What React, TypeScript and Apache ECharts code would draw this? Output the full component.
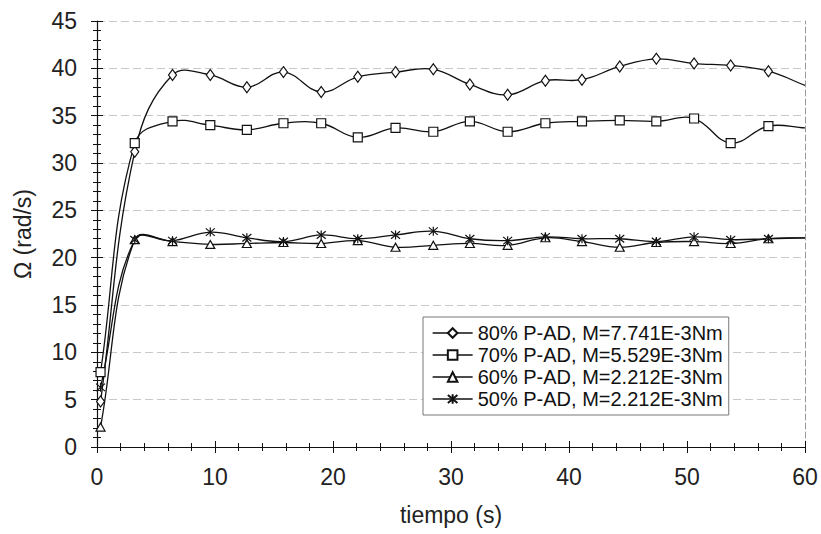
import React, { useEffect, useRef } from "react";
import * as echarts from "echarts";

// time axis (s)
const times = [0.3, 3.2, 6.4, 9.6, 12.7, 15.8, 19.0, 22.1, 25.3, 28.5, 31.6, 34.8, 38.0, 41.1, 44.3, 47.4, 50.6, 53.7, 56.9, 60.0];

// angular speed Ω (rad/s)
const s80 = [4.8, 31.2, 39.3, 39.3, 38.0, 39.6, 37.5, 39.1, 39.6, 39.9, 38.3, 37.2, 38.7, 38.8, 40.2, 41.0, 40.5, 40.3, 39.7, 38.2];
const s70 = [7.9, 32.1, 34.4, 34.0, 33.5, 34.2, 34.2, 32.7, 33.7, 33.3, 34.4, 33.3, 34.2, 34.4, 34.5, 34.4, 34.7, 32.1, 33.9, 33.7];
const s60 = [2.1, 21.9, 21.7, 21.4, 21.5, 21.6, 21.5, 21.8, 21.1, 21.3, 21.5, 21.3, 22.1, 21.7, 21.1, 21.6, 21.7, 21.5, 22.0, 22.1];
const s50 = [6.3, 21.9, 21.8, 22.7, 22.1, 21.7, 22.4, 22.0, 22.4, 22.8, 22.0, 21.8, 22.2, 22.0, 22.0, 21.7, 22.2, 21.9, 22.0, 22.1];

const names = [
  "80% P-AD, M=7.741E-3Nm",
  "70% P-AD, M=5.529E-3Nm",
  "60% P-AD, M=2.212E-3Nm",
  "50% P-AD, M=2.212E-3Nm",
];

const xTitle = "tiempo (s)";
const yTitle = "Ω (rad/s)";

const FONT = "'Liberation Sans', Arial, sans-serif";

export default function App() {
  const ref = useRef<HTMLDivElement>(null);
  useEffect(() => {
    const chart = echarts.init(ref.current!, null, { renderer: "svg" });
    const n = times.length;
    const toData = (vals: number[]) =>
      vals.map((v, i) =>
        i === n - 1 ? { value: [times[i], v], symbol: "none" } : [times[i], v]
      );
    const starPath = "path://M0 0L10 10M10 0L0 10M5 -1L5 11";

    // markers (line itself hidden; curve drawn by the custom series below)
    const mk = (name: string, vals: number[], symbol: string, size: any) => ({
      name,
      type: "line",
      xAxisIndex: 0,
      yAxisIndex: 0,
      data: toData(vals),
      symbol,
      symbolSize: size,
      showSymbol: true,
      lineStyle: { color: "#111", width: 1.3, opacity: 0 },
      itemStyle: { color: "#fff", borderColor: "#111", borderWidth: 1.2 },
      emphasis: { disabled: true },
      z: 4,
    });

    // smoothed curve through the points (spreadsheet-style smoothed line)
    const S = 0.4;
    const curve = (name: string, vals: number[]) => ({
      name: name + " (curva)",
      type: "custom",
      xAxisIndex: 0,
      yAxisIndex: 0,
      z: 3,
      silent: true,
      encode: { x: 0, y: 1 },
      data: vals.slice(0, n - 1).map((v, i) => [times[i], v]),
      renderItem: (params: any, api: any) => {
        const i = params.dataIndex;
        const p = (j: number) => {
          const k = Math.max(0, Math.min(n - 1, j));
          return api.coord([times[k], vals[k]]);
        };
        const dist = (a: number[], b: number[]) => Math.hypot(a[0] - b[0], a[1] - b[1]);
        const p0 = p(i - 1), p1 = p(i), p2 = p(i + 1), p3 = p(i + 2);
        const d01 = dist(p0, p1), d12 = dist(p1, p2), d23 = dist(p2, p3);
        const f1 = d01 + d12 > 0 ? (S * d12) / (d01 + d12) : 0;
        const f2 = d12 + d23 > 0 ? (S * d12) / (d12 + d23) : 0;
        return {
          type: "bezierCurve",
          shape: {
            x1: p1[0],
            y1: p1[1],
            x2: p2[0],
            y2: p2[1],
            cpx1: p1[0] + (p2[0] - p0[0]) * f1,
            cpy1: p1[1] + (p2[1] - p0[1]) * f1,
            cpx2: p2[0] - (p3[0] - p1[0]) * f2,
            cpy2: p2[1] - (p3[1] - p1[1]) * f2,
          },
          style: { stroke: "#111", lineWidth: 1.3, fill: null },
        };
      },
    });

    const gridLine = { show: true, lineStyle: { color: "#c8c8c8", width: 1, type: [8, 4] as any } };
    chart.setOption({
      animation: false,
      backgroundColor: "#fff",
      textStyle: { fontFamily: FONT },
      grid: { left: 97, right: 16, top: 21, bottom: 87, containLabel: false },
      legend: {
        data: names,
        orient: "vertical",
        left: 423,
        top: 317,
        padding: [6, 6, 6, 9],
        itemGap: 2,
        itemWidth: 40,
        itemHeight: 12,
        backgroundColor: "#fff",
        borderColor: "#777",
        borderWidth: 1,
        lineStyle: { color: "#111", width: 1.3, opacity: 1 },
        textStyle: { fontSize: 20, color: "#111", fontFamily: FONT },
      },
      xAxis: [
        {
          type: "value",
          min: 0,
          max: 60,
          interval: 10,
          position: "bottom",
          axisLine: { show: true, onZero: false, lineStyle: { color: "#111", width: 1.2 } },
          axisTick: { show: true, inside: false, length: 6, lineStyle: { color: "#111" } },
          minorTick: { show: true, splitNumber: 5, length: 4, lineStyle: { color: "#111" } },
          axisLabel: { fontSize: 23, color: "#222", margin: 18, fontFamily: FONT },
          splitLine: { show: false },
          name: xTitle,
          nameLocation: "middle",
          nameGap: 56,
          nameTextStyle: { fontSize: 23, color: "#222", fontFamily: FONT },
        },
        {
          type: "value",
          min: 0,
          max: 60,
          interval: 10,
          position: "bottom",
          axisLine: { show: false, onZero: false },
          axisTick: { show: true, inside: true, length: 6, lineStyle: { color: "#111" } },
          minorTick: { show: true, splitNumber: 5, length: 4, lineStyle: { color: "#111" } },
          axisLabel: { show: false },
          splitLine: { show: false },
        },
      ],
      yAxis: [
        {
          type: "value",
          min: 0,
          max: 45,
          interval: 5,
          position: "left",
          axisLine: { show: true, onZero: false, lineStyle: { color: "#111", width: 1.2 } },
          axisTick: { show: true, inside: false, length: 6, lineStyle: { color: "#111" } },
          minorTick: { show: true, splitNumber: 5, length: 4, lineStyle: { color: "#111" } },
          axisLabel: { fontSize: 23, color: "#222", margin: 20, fontFamily: FONT },
          splitLine: gridLine,
          name: yTitle,
          nameLocation: "middle",
          nameGap: 63,
          nameTextStyle: { fontSize: 23, color: "#222", fontFamily: FONT },
        },
        {
          type: "value",
          min: 0,
          max: 45,
          interval: 5,
          position: "left",
          axisLine: { show: false, onZero: false },
          axisTick: { show: true, inside: true, length: 6, lineStyle: { color: "#111" } },
          minorTick: { show: true, splitNumber: 5, length: 4, lineStyle: { color: "#111" } },
          axisLabel: { show: false },
          splitLine: { show: false },
        },
        {
          type: "value",
          min: 0,
          max: 45,
          interval: 5,
          position: "right",
          axisLine: { show: true, onZero: false, lineStyle: { color: "#999", width: 1, type: [6, 3] as any } },
          axisTick: { show: false },
          axisLabel: { show: false },
          splitLine: { show: false },
        },
      ],
      series: [
        curve(names[0], s80),
        curve(names[1], s70),
        curve(names[2], s60),
        curve(names[3], s50),
        mk(names[0], s80, "diamond", [8, 11]),
        mk(names[1], s70, "rect", 9),
        mk(names[2], s60, "triangle", [9, 8]),
        mk(names[3], s50, starPath, 9),
      ],
    });
    return () => chart.dispose();
  }, []);
  return (
    <div
      ref={ref}
      style={{ position: "fixed", left: 0, top: 0, width: 821, height: 534, background: "#fff" }}
    />
  );
}
